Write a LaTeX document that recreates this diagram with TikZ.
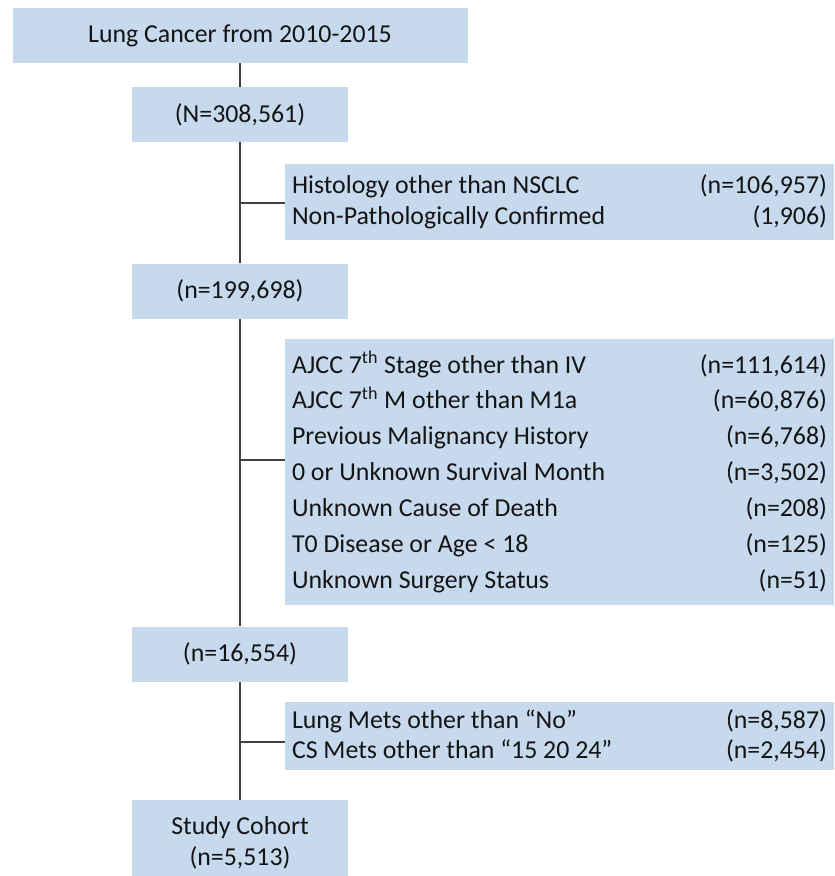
\documentclass[tikz,border=0pt]{standalone}
\usepackage{fontspec}
\setmainfont{Carlito}
\definecolor{BoxBlue}{RGB}{198,217,237}
\definecolor{LineGray}{RGB}{64,64,64}
\definecolor{TextBlack}{RGB}{20,20,20}
\usetikzlibrary{positioning, calc}

\begin{document}
\begin{tikzpicture}[font=\fontsize{14.7}{17.5}\selectfont, text=TextBlack,
	cohorte/.style={rectangle, fill=BoxBlue, align=center, inner sep=0pt,
		minimum width=4.32cm, minimum height=1.1cm},
	excl/.style={rectangle, fill=BoxBlue, align=justify, inner xsep=0pt,
		text width=10.7cm, minimum width=10.98cm},
	fl/.style={LineGray, line width=1.1pt}]

	\useasboundingbox (0,0) rectangle (16.68,-17.52);

	\node[cohorte, minimum width=9.1cm] (top) at (4.8,-0.71) {Lung Cancer from 2010-2015};
	\node[cohorte] (n1) at (4.8,-2.29) {(N=308,561)};
	\node[excl, minimum height=1.52cm] (x1) at (11.19,-4.04)
		{Histology other than NSCLC \hfill (n=106,957)\\
		 Non-Pathologically Confirmed \hfill (1,906)};
	\node[cohorte] (n2) at (4.8,-5.82) {(n=199,698)};
	\node[excl, minimum height=5.32cm, font=\fontsize{14.7}{20.4}\selectfont] (x2) at (11.19,-9.44)
		{AJCC 7\textsuperscript{th} Stage other than IV \hfill (n=111,614)\\
		 AJCC 7\textsuperscript{th} M other than M1a \hfill (n=60,876)\\
		 Previous Malignancy History \hfill (n=6,768)\\
		 0 or Unknown Survival Month \hfill (n=3,502)\\
		 Unknown Cause of Death \hfill (n=208)\\
		 T0 Disease or Age < 18 \hfill (n=125)\\
		 Unknown Surgery Status \hfill (n=51)};
	\node[cohorte] (n3) at (4.8,-13.08) {(n=16,554)};
	\node[excl, minimum height=1.36cm, font=\fontsize{14.7}{16.8}\selectfont] (x3) at (11.19,-14.72)
		{Lung Mets other than “No” \hfill (n=8,587)\\
		 CS Mets other than “15 20 24” \hfill (n=2,454)};
	\node[cohorte, minimum height=1.7cm] (n4) at (4.8,-16.85) {Study Cohort\\(n=5,513)};

	\coordinate (b1) at (4.8,-4.06);
	\coordinate (b2) at (4.8,-9.2);
	\coordinate (b3) at (4.8,-14.84);

	\draw[fl] (top) -- (n1);
	\draw[fl] (n1) -- (n2);
	\draw[fl] (n2) -- (n3);
	\draw[fl] (n3) -- (n4);
	\draw[fl] (b1) -- (x1.west |- b1);
	\draw[fl] (b2) -- (x2.west |- b2);
	\draw[fl] (b3) -- (x3.west |- b3);
\end{tikzpicture}
\end{document}
